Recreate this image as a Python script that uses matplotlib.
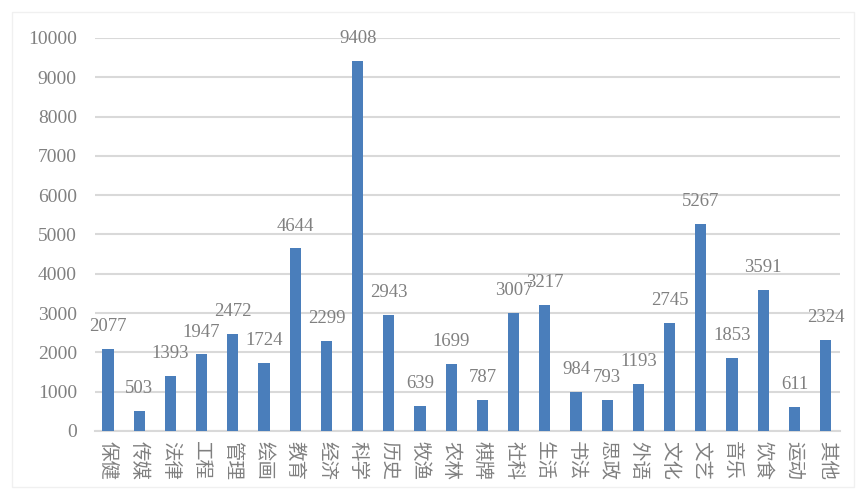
import matplotlib
matplotlib.use("Agg")
import matplotlib.pyplot as plt
from matplotlib.patches import Rectangle

categories = ["保健", "传媒", "法律", "工程", "管理", "绘画", "教育", "经济",
              "科学", "历史", "牧渔", "农林", "棋牌", "社科", "生活", "书法",
              "思政", "外语", "文化", "文艺", "音乐", "饮食", "运动", "其他"]
counts = [2077, 503, 1393, 1947, 2472, 1724, 4644, 2299,
          9408, 2943, 639, 1699, 787, 3007, 3217, 984,
          793, 1193, 2745, 5267, 1853, 3591, 611, 2324]
yticks = [0, 1000, 2000, 3000, 4000, 5000, 6000, 7000, 8000, 9000, 10000]

bar_color = "#4a7ebb"
text_grey = "#808080"
grid_grey = "#d9d9d9"

fig = plt.figure(figsize=(8.63, 4.92), dpi=100)
ax = fig.add_axes([0.110, 0.124, 0.863, 0.799])

x = list(range(len(categories)))
bars = ax.bar(x, counts, width=0.36, color=bar_color, zorder=3)

for xi, v in zip(x, counts):
    ax.annotate(str(v), (xi, v), xytext=(0, 10), textcoords="offset points",
                ha="center", va="bottom", fontsize=13.5, color=text_grey,
                family="Liberation Serif", zorder=4)

ax.set_xlim(-0.42, len(categories) - 0.55)
ax.set_ylim(0, 10000)
ax.set_yticks(yticks)
ax.set_yticklabels([str(t) for t in yticks], family="Liberation Serif",
                   fontsize=14, color=text_grey)
ax.set_xticks(x)
ax.set_xticklabels(categories, rotation=270, family="Noto Sans CJK SC",
                   fontsize=14, color=text_grey, va="top", ha="center")
ax.tick_params(axis="both", length=0)
ax.tick_params(axis="y", pad=13)
ax.tick_params(axis="x", pad=7)

ax.grid(axis="y", color=grid_grey, linewidth=1.5, zorder=0)
for side in ["left", "right", "top"]:
    ax.spines[side].set_visible(False)
ax.spines["bottom"].set_color(grid_grey)
ax.spines["bottom"].set_linewidth(1.5)

# faint frame round the chart area
fig.patches.append(Rectangle((0.014, 0.01), 0.975, 0.965, transform=fig.transFigure,
                             fill=False, edgecolor="#f0f0f0", linewidth=1))

fig.savefig("out.png", dpi=100)
